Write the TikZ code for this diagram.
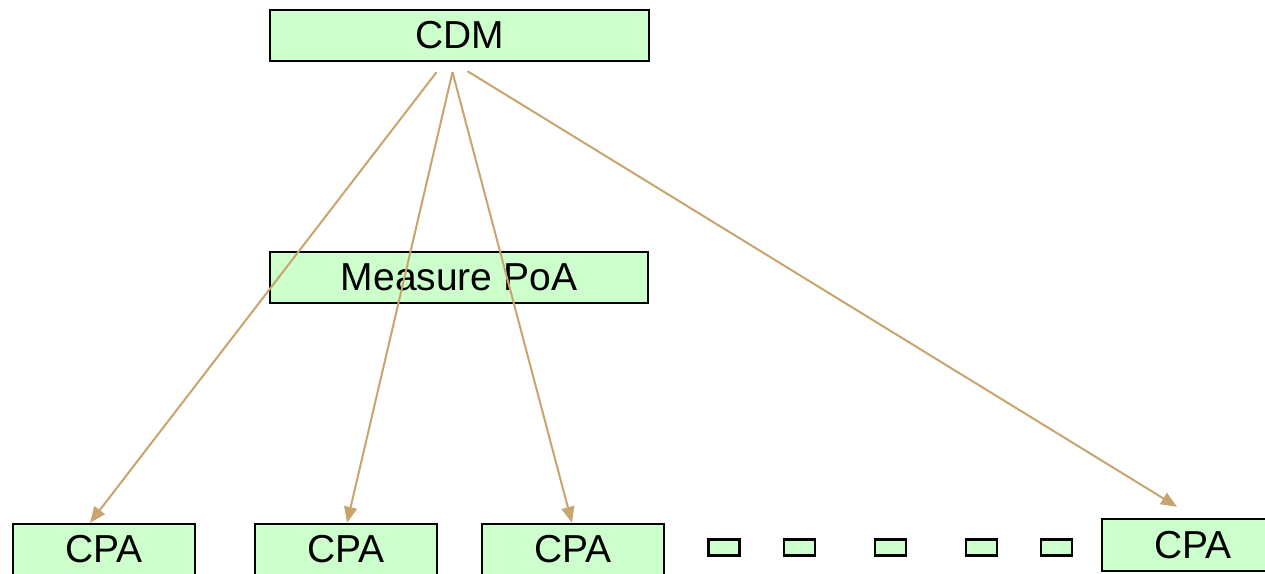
\documentclass[tikz,border=0pt]{standalone}
\usepackage{fontspec}
\setmainfont{Liberation Sans}
\usetikzlibrary{arrows.meta}
\definecolor{boxgreen}{HTML}{CCFFCC}
\definecolor{linktan}{HTML}{C8A46E}
\begin{document}
\begin{tikzpicture}[x=1pt, y=-1pt,
		box/.style={draw, line width=2.4pt, fill=boxgreen, inner sep=0pt, minimum height=51pt,
			font=\fontsize{39}{44}\selectfont},
		dot/.style={draw, line width=2.4pt, fill=boxgreen, inner sep=0pt, minimum width=31pt, minimum height=16pt},
		link/.style={draw=linktan, line width=2pt, -{Triangle[length=16pt,width=13pt]}}]
			\useasboundingbox (0,0) rectangle (1265,573);
			
			\node[box, minimum width=379pt] (cdm) at (459.5,35.5) {CDM};
			\node[box, minimum width=378pt] (poa) at (459,277.5) {Measure PoA};
			
			\node[box, minimum width=182pt] (cpa1) at (104,549.5) {CPA};
			\node[box, minimum width=182pt] (cpa2) at (346,549.5) {CPA};
			\node[box, minimum width=182pt] (cpa3) at (573,549.5) {CPA};
			\node[box, minimum width=182pt, minimum height=52pt] (cpa4) at (1193,545) {CPA};
			
			\foreach \x [count=\i] in {724,799.5,890.5,981.5,1056.5}
			{
				\node[dot] (gap\i) at (\x,547.5) {};
			}
			
			\coordinate (out1) at ([shift={(-23,10)}]cdm.south);
			\coordinate (out2) at ([shift={(-7,10)}]cdm.south);
			\coordinate (out3) at ([shift={(8,9)}]cdm.south);
			
			\draw[link] (out1) to ([xshift=-14pt]cpa1.north);
			\draw[link] (out2) to ([xshift=1pt]cpa2.north);
			\draw[link] (out2) to ([xshift=-1pt]cpa3.north);
			\draw[link] (out3) to ([shift={(-16,-11)}]cpa4.north);
			
		\end{tikzpicture}
\end{document}
